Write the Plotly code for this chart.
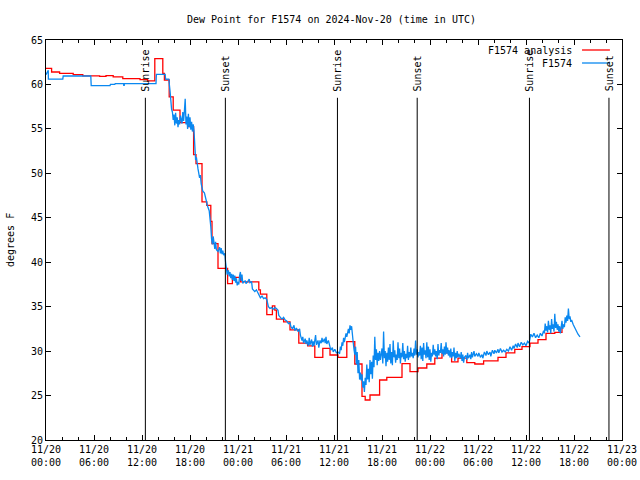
import datetime as dt
import plotly.graph_objects as go

BASE = dt.datetime(2024, 11, 20)

# Analysis (red step line): hour offset from 11/20 00:00 UTC, value (deg F)
red_hours = [0.0, 0.7, 1.7, 3.4, 4.6, 6.7, 7.5, 8.4, 9.6, 11.75, 12.7, 13.6, 14.6, 14.8,
             15.4, 15.9, 16.75, 17.8, 18.45, 18.75, 19.5, 20.1, 20.6, 20.75, 21.5, 22.7,
             23.3, 24.3, 26.6, 26.8, 27.6, 28.3, 28.6, 28.8, 29.7, 30.5, 31.6, 32.7, 33.6,
             34.6, 35.5, 36.5, 37.6, 38.6, 39.5, 39.9, 40.5, 41.7, 42.6, 44.5, 45.5, 46.5,
             47.6, 48.6, 49.5, 50.7, 51.5, 52.6, 53.6, 54.7, 56.5, 57.5, 58.6, 59.5, 60.5,
             61.5, 62.5, 63.6, 64.5, 64.75]
red_values = [61.8, 61.4, 61.25, 61.1, 60.97, 60.9, 61.0, 60.86, 60.66, 60.55, 60.4, 62.9, 61.25, 60.5,
              58.6, 57.1, 55.7, 55.25, 52.1, 51.1, 46.8, 46.4, 44.6, 42.1, 39.3, 37.6,
              38.3, 37.8, 36.9, 36.4, 34.1, 35.1, 34.6, 33.6, 33.3, 32.4, 30.9, 30.6, 29.3,
              30.3, 29.56, 29.3, 31.06, 28.55, 24.9, 24.5, 25.06, 26.75, 27.05, 28.6, 27.7, 28.1,
              28.55, 29.2, 29.8, 28.8, 29.2, 28.7, 28.55, 28.9, 29.3, 29.8, 30.2, 30.5, 30.9,
              31.3, 32.0, 32.1, 32.9, 32.9]

# Observations (blue line)
blue_hours = [
    0.0, 0.2, 0.28, 0.3, 2.1, 2.15, 5.6, 5.65, 8.0, 8.05, 8.6, 8.65, 9.7, 9.72, 9.78, 9.8,
    13.75, 13.8, 14.9, 14.95, 15.35, 15.5, 15.6, 15.7, 15.8, 15.9, 16.0, 16.1, 16.2, 16.3,
    16.4, 16.5, 16.6, 16.7, 16.8, 16.9, 17.0, 17.1, 17.2, 17.3, 17.4, 17.5, 17.6, 17.7,
    17.8, 17.9, 18.0, 18.1, 18.2, 18.3, 18.4, 18.5, 18.6, 18.7, 18.8, 18.9, 19.0, 19.2,
    19.3, 19.4, 19.6, 19.8, 20.0, 20.2, 20.4, 20.5, 20.6, 20.7, 20.8, 20.9, 21.0, 21.1,
    21.2, 21.3, 21.5, 21.7, 21.8, 21.9, 22.0, 22.1, 22.2, 22.35, 22.45, 22.55, 22.65, 22.8,
    22.9, 23.0, 23.1, 23.2, 23.3, 23.4, 23.5, 23.6, 23.7, 23.8, 23.9, 24.0, 24.1, 24.2,
    24.3, 24.4, 24.5, 24.6, 24.7, 24.9, 25.0, 25.2, 25.4, 25.5, 25.7, 25.8, 26.0, 26.1,
    26.3, 26.5, 26.7, 26.8, 27.0, 27.2, 27.4, 27.6, 27.8, 28.0, 28.2, 28.4, 28.6, 28.8,
    29.0, 29.1, 29.3, 29.5, 29.7, 29.9, 30.1, 30.3, 30.5, 30.6, 30.8, 31.0, 31.1, 31.3,
    31.5, 31.7, 31.8, 32.0, 32.1, 32.2, 32.4, 32.5, 32.6, 32.8, 32.9, 33.0, 33.2, 33.3,
    33.4, 33.5, 33.7, 33.8, 34.0, 34.1, 34.25, 34.4, 34.5, 34.6, 34.8, 34.9, 35.0, 35.1,
    35.3, 35.5, 35.6, 35.8, 35.9, 36.1, 36.3, 36.5, 36.7, 36.8, 36.9, 37.0, 37.1, 37.2,
    37.3, 37.5, 37.6, 37.8, 37.9, 38.0, 38.1, 38.2, 38.3, 38.4, 38.5, 38.6, 38.7, 38.8,
    38.9, 39.0, 39.1, 39.2, 39.3, 39.4, 39.5, 39.6, 39.7, 39.8, 39.9, 40.0, 40.1, 40.2,
    40.3, 40.4, 40.5, 40.6, 40.7, 40.8, 40.9, 41.0, 41.1, 41.2, 41.3, 41.4, 41.5, 41.6,
    41.7, 41.8, 42.0, 42.1, 42.2, 42.3, 42.4, 42.5, 42.6, 42.7, 42.8, 42.9, 43.0, 43.1,
    43.2, 43.3, 43.4, 43.5, 43.6, 43.7, 43.8, 43.9, 44.0, 44.1, 44.2, 44.3, 44.4, 44.5,
    44.6, 44.7, 44.8, 44.9, 45.0, 45.1, 45.2, 45.3, 45.4, 45.5, 45.6, 45.7, 45.8, 45.9,
    46.0, 46.1, 46.2, 46.3, 46.4, 46.5, 46.6, 46.7, 46.8, 46.9, 47.0, 47.1, 47.2, 47.3,
    47.4, 47.5, 47.6, 47.7, 47.8, 47.9, 48.0, 48.1, 48.2, 48.3, 48.4, 48.5, 48.6, 48.7,
    48.8, 48.9, 49.0, 49.1, 49.2, 49.3, 49.4, 49.5, 49.6, 49.7, 49.8, 49.9, 50.0, 50.1,
    50.2, 50.3, 50.4, 50.5, 50.6, 50.7, 50.8, 50.9, 51.0, 51.1, 51.2, 51.3, 51.4, 51.5,
    51.6, 51.8, 51.9, 52.0, 52.1, 52.2, 52.3, 52.5, 52.6, 52.7, 52.8, 53.0, 53.1, 53.2,
    53.3, 53.5, 53.6, 53.8, 54.0, 54.1, 54.3, 54.5, 54.6, 54.8, 55.0, 55.1, 55.3, 55.5,
    55.6, 55.8, 56.0, 56.1, 56.3, 56.5, 56.6, 56.8, 57.0, 57.2, 57.4, 57.6, 57.8, 58.0,
    58.2, 58.4, 58.5, 58.7, 58.9, 59.0, 59.2, 59.4, 59.6, 59.8, 60.0, 60.2, 60.4, 60.5,
    60.6, 60.8, 61.0, 61.2, 61.4, 61.6, 61.8, 62.0, 62.2, 62.3, 62.4, 62.5, 62.6, 62.7,
    62.8, 62.9, 63.0, 63.1, 63.2, 63.3, 63.4, 63.5, 63.6, 63.7, 63.8, 63.9, 64.0, 64.1,
    64.2, 64.3, 64.4, 64.5, 64.6, 64.7, 64.8, 64.9, 65.0, 65.1, 65.2, 65.3, 65.4, 65.5,
    65.6, 65.7, 65.9, 66.1, 66.3, 66.5, 66.75]
blue_values = [
    61.1, 61.6, 61.6, 60.6, 60.6, 60.95, 60.95, 59.86, 59.86, 60.0, 60.0, 60.1, 60.1, 59.9, 59.9, 60.1,
    60.1, 61.14, 61.14, 60.6, 60.6, 59.3, 58.0, 57.2, 56.9, 56.0, 56.6, 55.4, 56.8, 55.6,
    56.3, 55.2, 56.0, 55.5, 56.5, 56.0, 55.6, 56.9, 55.9, 57.0, 58.4, 55.5, 56.4, 55.0,
    56.7, 55.2, 56.3, 54.9, 55.8, 54.7, 55.5, 54.8, 52.5, 51.5, 51.8, 50.8, 50.5, 49.5,
    49.8, 48.8, 48.0, 47.8, 47.0, 46.3, 45.8, 45.0, 44.0, 42.6, 42.0, 42.9, 42.0, 41.5,
    42.3, 41.4, 41.2, 41.7, 41.0, 41.6, 40.9, 41.3, 40.8, 41.0, 40.0, 39.3, 38.6, 39.1,
    38.4, 38.9, 38.2, 38.7, 38.0, 38.6, 37.9, 38.5, 37.7, 38.2, 37.4, 37.8, 37.5, 38.5,
    38.9, 37.9, 38.6, 37.6, 37.8, 37.9, 37.6, 37.8, 38.1, 37.7, 37.8, 37.0, 36.8, 36.7,
    36.9, 36.6, 36.3, 36.0, 36.2, 35.9, 36.0, 35.8, 35.0, 34.8, 34.9, 34.7, 34.9, 34.8,
    34.6, 34.0, 33.8, 33.6, 33.8, 33.5, 33.4, 33.1, 33.2, 32.8, 32.5, 32.9, 32.3, 32.6,
    32.2, 32.5, 31.8, 31.2, 31.6, 30.9, 31.4, 30.8, 31.2, 30.6, 31.5, 30.7, 31.3, 30.5,
    31.1, 30.6, 31.8, 30.7, 31.2, 30.4, 31.2, 30.9, 31.5, 31.0, 31.4, 30.9, 31.6, 30.8,
    31.2, 30.5, 30.1, 30.4, 29.9, 30.2, 29.8, 29.9, 29.7, 30.5, 30.1, 31.0, 30.6, 31.5,
    31.0, 32.0, 31.6, 32.5, 32.0, 32.9, 32.4, 32.8, 31.5, 31.0, 30.2, 29.6, 30.5, 28.5,
    29.9, 27.5, 29.0, 26.8, 27.6, 26.7, 27.4, 25.9, 26.6, 25.4, 27.0, 26.2, 28.5, 26.8,
    28.0, 26.5, 29.0, 27.4, 28.8, 26.9, 29.5, 28.2, 31.6, 29.0, 30.2, 28.4, 29.8, 28.9,
    30.0, 29.0, 30.3, 28.6, 32.2, 29.2, 30.0, 28.3, 29.8, 28.8, 30.4, 29.0, 30.8, 28.6,
    29.9, 28.4, 31.2, 29.3, 30.1, 28.7, 29.6, 29.0, 31.0, 29.2, 30.3, 28.6, 29.8, 29.3,
    30.9, 29.1, 30.0, 28.8, 29.7, 29.2, 30.6, 29.0, 29.9, 29.3, 30.4, 29.4, 29.8, 29.2,
    30.3, 29.5, 31.2, 29.6, 30.2, 29.3, 29.9, 29.5, 30.6, 29.1, 30.4, 28.9, 30.9, 29.6,
    30.1, 29.2, 31.0, 29.3, 30.5, 29.0, 30.2, 28.8, 29.8, 29.4, 30.7, 29.6, 30.2, 29.4,
    30.0, 29.1, 30.8, 29.5, 30.1, 29.8, 30.9, 29.7, 30.2, 29.4, 30.5, 29.6, 31.0, 29.7,
    30.4, 29.5, 30.1, 29.3, 30.3, 29.2, 29.9, 29.4, 30.4, 28.9, 29.8, 29.2, 30.0, 29.3,
    29.7, 29.2, 29.9, 28.9, 29.6, 28.7, 29.3, 29.5, 29.0, 29.8, 29.2, 29.6, 29.1, 29.9,
    29.3, 30.0, 29.4, 29.7, 29.4, 29.8, 29.3, 29.6, 29.2, 29.9, 29.5, 30.0, 29.6, 29.9,
    29.4, 30.1, 29.7, 30.1, 29.8, 30.2, 29.8, 30.3, 29.9, 30.1, 29.9, 30.2, 30.0, 30.5,
    30.1, 30.6, 30.3, 30.8, 30.4, 30.9, 30.5, 31.0, 30.7, 30.9, 30.6, 31.1, 30.9, 31.5,
    31.9, 31.6, 32.0, 31.5, 31.8, 31.5, 32.0, 31.7, 32.3, 32.0, 33.1, 32.3, 32.8, 32.1,
    33.4, 32.4, 32.9, 32.0, 33.6, 32.5, 33.0, 32.2, 34.2, 32.6, 33.3, 32.4, 33.0, 32.2,
    32.8, 32.0, 32.6, 33.4, 32.5, 33.0, 32.7, 33.8, 33.2, 34.0, 33.4, 34.8, 33.6, 33.9,
    33.3, 33.5, 33.0, 32.6, 32.3, 31.9, 31.6]

# Sunrise / sunset times (hour offsets, UTC)
sunrise_hours = [12.42, 36.43, 60.43]
sunset_hours = [22.42, 46.40, 70.37]

series_names = ["F1574 analysis", "F1574"]
series_colors = ["#ff0000", "#0a88f0"]

Y_MIN, Y_MAX = 20, 65
X_START = BASE
X_END = BASE + dt.timedelta(hours=72)
MARKER_TOP = 58.5   # top of sunrise/sunset lines
LABEL_BASE = 59.0   # bottom of rotated labels

FONT = "DejaVu Sans Mono"


def to_time(hours):
    return [BASE + dt.timedelta(hours=h) for h in hours]


fig = go.Figure()
fig.add_trace(go.Scatter(x=to_time(red_hours), y=red_values, mode="lines",
                         line=dict(color=series_colors[0], width=1.3, shape="hv"),
                         name=series_names[0]))
fig.add_trace(go.Scatter(x=to_time(blue_hours), y=blue_values, mode="lines",
                         line=dict(color=series_colors[1], width=1.3),
                         name=series_names[1]))

# Sunrise/sunset vertical lines and labels
for hrs, label in ((sunrise_hours, "Sunrise"), (sunset_hours, "Sunset")):
    for h in hrs:
        t = BASE + dt.timedelta(hours=h)
        fig.add_shape(type="line", xref="x", yref="y", x0=t, x1=t, y0=Y_MIN, y1=MARKER_TOP,
                      line=dict(color="black", width=1))
        fig.add_annotation(x=t, y=LABEL_BASE, xref="x", yref="y", text=label,
                           textangle=-90, showarrow=False, xanchor="center", yanchor="bottom",
                           font=dict(family=FONT, size=10, color="black"))

# Manual gnuplot-style key (text right-aligned, sample to its right)
key_rows = [0.975, 0.9425]
for name, color, yy in zip(series_names, series_colors, key_rows):
    fig.add_annotation(x=0.916, y=yy, xref="paper", yref="paper", text=name, showarrow=False,
                       xanchor="right", yanchor="middle",
                       font=dict(family=FONT, size=10, color="black"))
    fig.add_shape(type="line", xref="paper", yref="paper", x0=0.9306, x1=0.979, y0=yy, y1=yy,
                  line=dict(color=color, width=1.3))

# Title and y-axis label
fig.add_annotation(x=0.4957, y=1.0525, xref="paper", yref="paper",
                   text="Dew Point for F1574 on 2024-Nov-20 (time in UTC)", showarrow=False,
                   xanchor="center", yanchor="middle", font=dict(family=FONT, size=10, color="black"))
fig.add_annotation(x=-0.0625, y=0.5, xref="paper", yref="paper", text="degrees F",
                   textangle=-90, showarrow=False, xanchor="center", yanchor="middle",
                   font=dict(family=FONT, size=10, color="black"))

fig.update_layout(
    width=640, height=480,
    margin=dict(l=46, r=18, t=40, b=40, autoexpand=False),
    paper_bgcolor="white", plot_bgcolor="white",
    showlegend=False,
    font=dict(family=FONT, size=10, color="black"),
    xaxis=dict(type="date", range=[X_START, X_END], tick0=BASE, dtick=6 * 3600 * 1000,
               tickformat="%m/%d<br>%H:%M", ticks="inside", ticklen=5, tickcolor="black",
               showline=True, linecolor="black", linewidth=1, mirror="ticks",
               showgrid=False, zeroline=False,
               minor=dict(dtick=2 * 3600 * 1000, ticks="inside", ticklen=3, tickcolor="black",
                          showgrid=False),
               tickfont=dict(family=FONT, size=10)),
    yaxis=dict(range=[Y_MIN, Y_MAX], dtick=5, ticks="inside", ticklen=5, tickcolor="black",
               showline=True, linecolor="black", linewidth=1, mirror="ticks",
               showgrid=False, zeroline=False, tickfont=dict(family=FONT, size=10)),
)

# Remove the default page margin so the 640x480 figure fills the window exactly
fig.write_html("out.html", config={"displayModeBar": False},
               post_script="document.body.style.margin='0';document.body.style.overflow='hidden';")
